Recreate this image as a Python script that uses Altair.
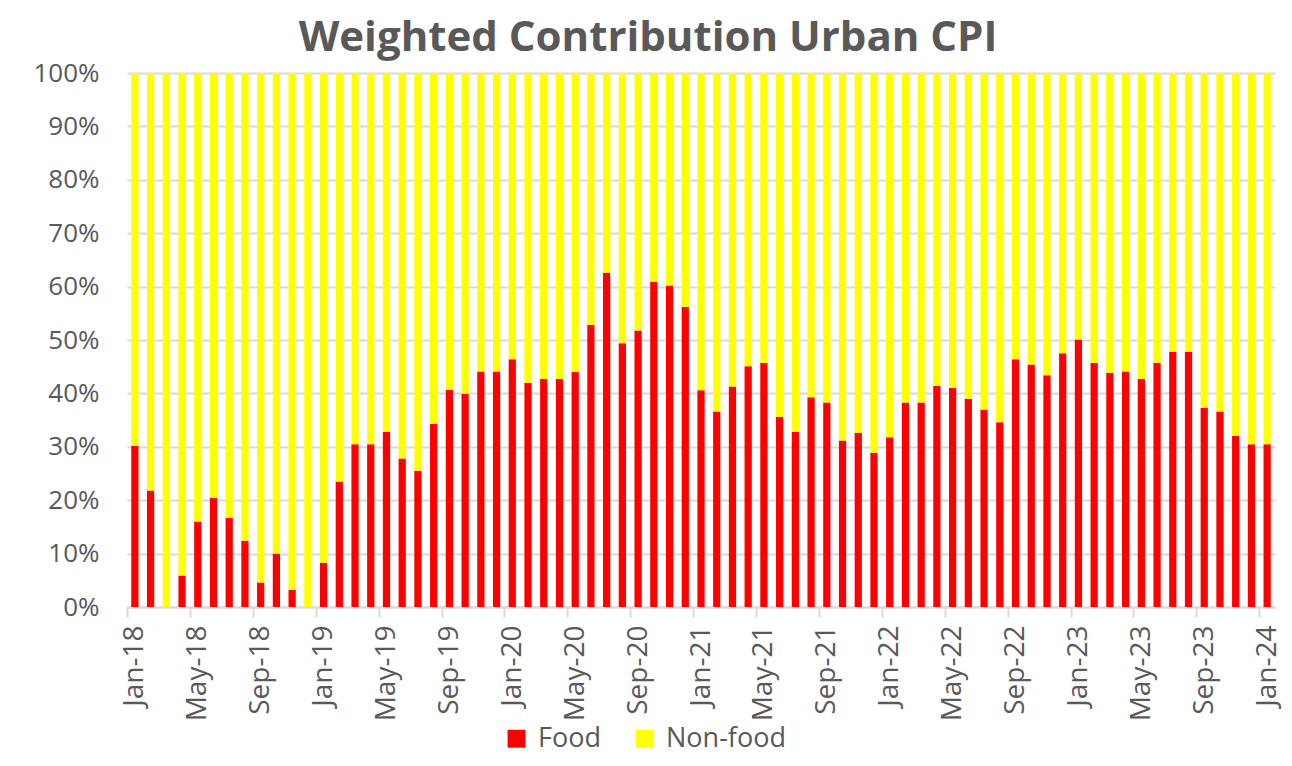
import altair as alt
import pandas as pd

month_names = ["Jan", "Feb", "Mar", "Apr", "May", "Jun",
               "Jul", "Aug", "Sep", "Oct", "Nov", "Dec"]
years = ["18", "19", "20", "21", "22", "23", "24"]
months = [f"{m}-{y}" for y in years for m in month_names][:73]
tick_labels = months[::4]

# food share of the weighted contribution, in percent
food = [30.2, 21.8, 0.0, 5.9, 16.0, 20.4, 16.7, 12.4, 4.6, 10.0, 3.2, 0.0,
        8.3, 23.5, 30.5, 30.5, 32.8, 27.8, 25.5, 34.3, 40.7, 39.9, 44.1, 44.1,
        46.4, 42.0, 42.7, 42.7, 44.0, 52.8, 62.6, 49.4, 51.8, 60.9, 60.2, 56.2,
        40.6, 36.6, 41.3, 45.1, 45.7, 35.6, 32.8, 39.3, 38.3, 31.2, 32.6, 28.9,
        31.8, 38.3, 38.3, 41.4, 41.0, 39.0, 37.0, 34.6, 46.4, 45.4, 43.4, 47.5,
        50.1, 45.7, 43.8, 44.1, 42.7, 45.7, 47.8, 47.8, 37.3, 36.6, 32.0, 30.5,
        30.5]
components = ["Food", "Non-food"]
colors = ["#ff0000", "#ffff00"]

rows = []
for m, f in zip(months, food):
    rows.append({"Month": m, "Component": "Food", "Share": f / 100, "k": 0})
    rows.append({"Month": m, "Component": "Non-food", "Share": (100 - f) / 100, "k": 1})
df = pd.DataFrame(rows)

W, H = 1148, 534
step = W / len(months)
grey = "#595959"
line = "#d9d9d9"

chart = alt.Chart(df).mark_bar().encode(
    x=alt.X("Month:N", sort=months, title=None,
            scale=alt.Scale(paddingInner=0.54, paddingOuter=0.27),
            axis=alt.Axis(values=tick_labels, labelAngle=-90,
                          tickOffset=-step / 2, labelOffset=step / 2,
                          domainColor=line, domainWidth=2,
                          tickColor=line, tickWidth=2, tickSize=10,
                          labelFont="Open Sans", labelFontSize=28,
                          labelColor=grey, labelPadding=8)),
    y=alt.Y("Share:Q", stack="zero", title=None,
            scale=alt.Scale(domain=[0, 1]),
            axis=alt.Axis(format=".0%", values=[i / 10 for i in range(11)],
                          domain=False, ticks=False,
                          gridColor=line, gridWidth=2,
                          labelFont="Open Sans", labelFontSize=26,
                          labelColor=grey, labelPadding=28)),
    color=alt.Color("Component:N",
                    scale=alt.Scale(domain=components, range=colors),
                    legend=alt.Legend(title=None, orient="none",
                                      legendX=376, legendY=652,
                                      direction="horizontal",
                                      symbolType="square", symbolSize=320,
                                      symbolStrokeWidth=0, symbolOpacity=1,
                                      labelFont="Open Sans", labelFontSize=27,
                                      labelColor=grey, labelOffset=8,
                                      columnPadding=30, padding=0)),
    order=alt.Order("k:Q"),
).properties(
    width=W,
    height=H,
    autosize=alt.AutoSizeParams(type="none"),
    padding={"left": 119, "top": 65, "right": 9, "bottom": 150},
    title=alt.TitleParams("Weighted Contribution Urban CPI",
                          font="Open Sans", fontSize=42, fontWeight="bold",
                          color=grey, offset=0, dx=-53),
).configure_view(stroke=None)

chart.save("out.html", embed_options={"renderer": "svg", "actions": False})
